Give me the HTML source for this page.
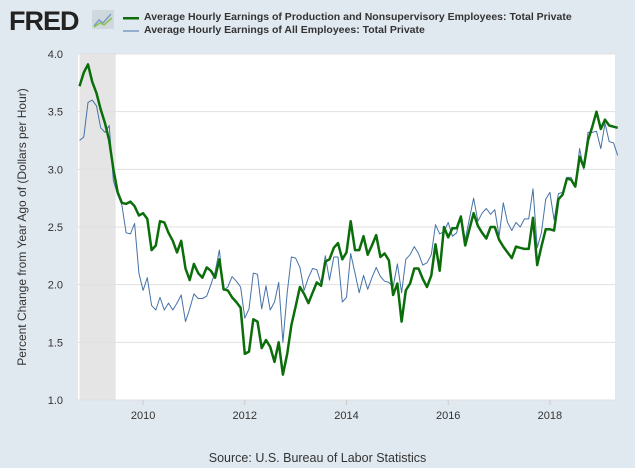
<!DOCTYPE html>
<html><head><meta charset="utf-8"><style>
body{margin:0;background:#e1e9f0;font-family:"Liberation Sans",sans-serif;}
#wrap{position:relative;width:635px;height:468px;overflow:hidden;background:#e1e9f0;}
.leg{position:absolute;left:144px;font-size:10.5px;font-weight:bold;color:#333;white-space:nowrap;}
</style></head><body>
<div id="wrap">
<div style="position:absolute;left:9px;top:6px;font-size:27px;font-weight:900;color:#222;letter-spacing:-1px;">FRED</div>
<svg style="position:absolute;left:92px;top:10px" width="22" height="19"><rect width="22" height="19" fill="#cfd8dc"/><polyline points="2,16 7,10 11,13 19,4" fill="none" stroke="#7a9cc6" stroke-width="1.5"/><polyline points="2,17 8,13 12,15 20,8" fill="none" stroke="#8bc34a" stroke-width="1.5"/></svg>
<svg style="position:absolute;left:123px;top:17px" width="16" height="3"><rect width="16" height="2.5" fill="#0b6e0b"/></svg>
<div class="leg" style="top:11px">Average Hourly Earnings of Production and Nonsupervisory Employees: Total Private</div>
<svg style="position:absolute;left:123px;top:30px" width="16" height="3"><rect width="16" height="2" fill="#93aece"/></svg>
<div class="leg" style="top:24px">Average Hourly Earnings of All Employees: Total Private</div>
<svg id="chart" width="635" height="468" style="position:absolute;left:0;top:0"></svg>
<div style="position:absolute;left:0;width:635px;top:451px;text-align:center;font-size:12.5px;color:#333;">Source: U.S. Bureau of Labor Statistics</div>
</div>
<script>
const startYear = 2008, startMonth = 9; // Oct 2008 (0-based month)
const production = [3.72,3.84,3.91,3.76,3.66,3.52,3.40,3.25,3.00,2.80,2.71,2.70,2.72,2.68,2.60,2.62,2.57,2.30,2.34,2.55,2.54,2.45,2.38,2.28,2.38,2.14,2.04,2.18,2.10,2.06,2.15,2.12,2.06,2.22,1.96,1.95,1.89,1.85,1.80,1.40,1.42,1.70,1.68,1.45,1.52,1.46,1.33,1.50,1.22,1.40,1.65,1.81,1.98,1.92,1.84,1.93,2.02,1.99,2.20,2.22,2.32,2.36,2.22,2.28,2.55,2.30,2.30,2.42,2.26,2.34,2.43,2.24,2.27,2.21,1.91,2.01,1.68,1.95,2.01,2.14,2.14,2.05,1.98,2.08,2.35,2.12,2.50,2.41,2.49,2.49,2.59,2.34,2.48,2.62,2.51,2.45,2.40,2.50,2.50,2.39,2.33,2.28,2.23,2.33,2.32,2.31,2.31,2.58,2.17,2.33,2.48,2.48,2.47,2.74,2.78,2.92,2.91,2.85,3.11,3.02,3.25,3.37,3.50,3.35,3.43,3.38,3.37,3.36];
const allEmployees = [3.25,3.28,3.58,3.60,3.55,3.36,3.32,3.38,2.90,2.78,2.69,2.45,2.44,2.53,2.10,1.95,2.06,1.82,1.78,1.89,1.78,1.84,1.78,1.84,1.91,1.68,1.79,1.92,1.88,1.88,1.90,2.00,2.11,2.30,1.95,1.98,2.07,2.03,1.98,1.71,1.79,2.10,2.09,1.79,1.99,1.78,1.85,2.02,1.50,1.93,2.24,2.23,2.15,1.95,2.06,2.14,2.13,2.01,2.25,2.04,2.24,2.24,1.85,1.89,2.27,2.10,1.93,2.08,1.96,2.06,2.15,2.07,2.03,2.02,1.98,2.18,1.93,2.22,2.26,2.33,2.27,2.17,2.19,2.26,2.52,2.44,2.46,2.54,2.42,2.45,2.60,2.39,2.57,2.75,2.55,2.62,2.66,2.61,2.65,2.42,2.71,2.54,2.47,2.54,2.50,2.57,2.57,2.83,2.32,2.45,2.74,2.80,2.56,2.79,2.80,2.93,2.93,2.85,3.18,3.00,3.32,3.32,3.33,3.18,3.40,3.24,3.23,3.12];
const yTicks = [1.0,1.5,2.0,2.5,3.0,3.5,4.0];
const xTicks = [2010,2012,2014,2016,2018];
const recession = [2008.75, 2009.46];

const NS="http://www.w3.org/2000/svg";
const svg=document.getElementById('chart');
const L=78,R=615,T=54,B=400;
const yMin=1,yMax=4;
const xMin=2008.72,xMax=2019.28;
const xs=d=>L+(d-xMin)/(xMax-xMin)*(R-L);
const ys=v=>B-(v-yMin)/(yMax-yMin)*(B-T);
const dateOf=i=>startYear+(startMonth+i)/12;
function mk(tag,attrs){const e=document.createElementNS(NS,tag);for(const k in attrs)e.setAttribute(k,attrs[k]);svg.appendChild(e);return e;}
let e=mk('rect',{x:L,y:T,width:R-L,height:B-T,fill:'#fff'});


e=mk('rect',{x:xs(recession[0]),y:T,width:xs(recession[1])-xs(recession[0]),height:B-T,fill:'#e5e5e5'});


yTicks.forEach(t=>{
  const g=mk('line',{x1:L,x2:R,y1:ys(t),y2:ys(t),stroke:'#e0e0e0','stroke-width':1});
  
  
  const tx=mk('text',{x:63,y:ys(t)+4,'text-anchor':'end','font-size':11,fill:'#333','font-family':'Liberation Sans, sans-serif'});
  tx.textContent=t.toFixed(1);
  
  
});
xTicks.forEach(t=>{
  const tx=mk('text',{x:xs(t),y:419,'text-anchor':'middle','font-size':11,fill:'#333','font-family':'Liberation Sans, sans-serif'});
  tx.textContent=t;
  
  
  const tk=mk('line',{x1:xs(t),x2:xs(t),y1:B,y2:B+5,stroke:'#ccc'});
  
  
});
const yt=mk('text',{x:0,y:0,'text-anchor':'middle','font-size':12,fill:'#333',transform:'translate(26,227) rotate(-90)','font-family':'Liberation Sans, sans-serif'});
yt.textContent='Percent Change from Year Ago of (Dollars per Hour)';


function line(arr,color,w,name){
  const pts=arr.map((v,i)=>xs(dateOf(i)).toFixed(1)+','+ys(v).toFixed(1)).join(' ');
  const p=mk('polyline',{points:pts,fill:'none',stroke:color,'stroke-width':w,'stroke-linejoin':'round'});
  
  
}
line(allEmployees,'#4572a7',1,'series-all-employees');
line(production,'#0b6e0b',2.5,'series-production');
</script>
</body></html>
